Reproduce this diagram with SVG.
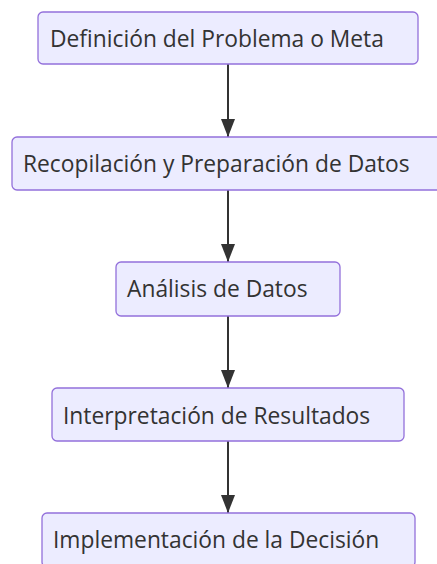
<svg xmlns="http://www.w3.org/2000/svg" width="437" height="564" viewBox="0 0 437 564">
<style>
.n rect{fill:#ECECFF;stroke:#9370DB;stroke-width:1.3}
.n text{font-family:"Open Sans","Noto Sans",sans-serif;font-size:22.8px;fill:#333}
.e line{stroke:#333;stroke-width:2}
</style>
<defs>
<marker id="ah" viewBox="0 0 18 14" refX="18" refY="7" markerWidth="18" markerHeight="14" markerUnits="userSpaceOnUse" orient="auto">
<path d="M0,0 L18,7 L0,14 z" fill="#333"/>
</marker>
</defs>
<rect width="437" height="564" fill="#fff"/>
<g id="edges" class="e">
<line x1="228" y1="64" x2="228" y2="137" marker-end="url(#ah)"/>
<line x1="228" y1="190" x2="228" y2="262" marker-end="url(#ah)"/>
<line x1="228" y1="316" x2="228" y2="388" marker-end="url(#ah)"/>
<line x1="228" y1="441" x2="228" y2="513" marker-end="url(#ah)"/>
</g>
<g id="n1" class="n"><rect x="38" y="12" width="380" height="52" rx="5"/><text x="50" y="47">Definición del Problema o Meta</text></g>
<g id="n2" class="n"><rect x="12" y="137" width="430" height="53" rx="5"/><text x="23" y="172">Recopilación y Preparación de Datos</text></g>
<g id="n3" class="n"><rect x="116" y="262" width="224" height="54" rx="5"/><text x="127" y="297">Análisis de Datos</text></g>
<g id="n4" class="n"><rect x="52" y="388" width="352" height="53" rx="5"/><text x="63" y="424">Interpretación de Resultados</text></g>
<g id="n5" class="n"><rect x="42" y="513" width="373" height="54" rx="5"/><text x="53" y="548">Implementación de la Decisión</text></g>
</svg>
